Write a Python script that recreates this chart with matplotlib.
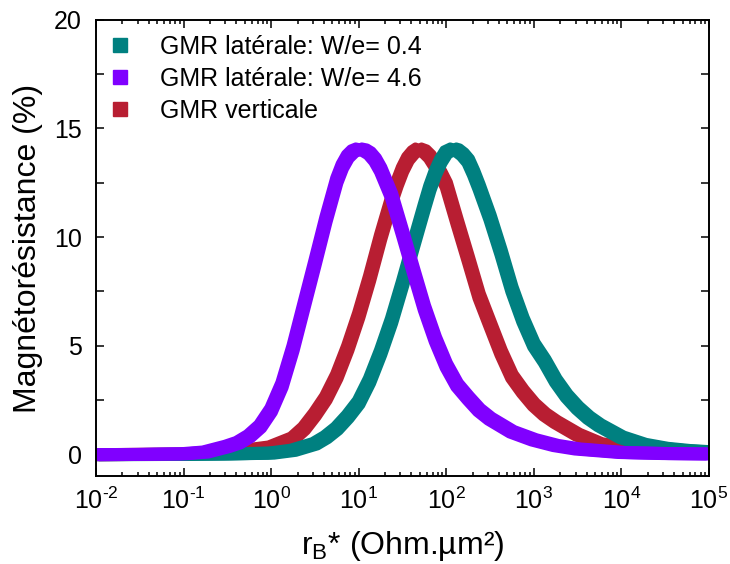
import matplotlib
matplotlib.use("Agg")
import matplotlib.pyplot as plt
import matplotlib.patheffects as pe
from matplotlib.lines import Line2D
from matplotlib.ticker import FixedLocator, FixedFormatter, LogLocator, NullFormatter

plt.rcParams['font.family'] = ['Liberation Sans', 'DejaVu Sans']
plt.rcParams['mathtext.fontset'] = 'custom'
plt.rcParams['mathtext.rm'] = 'Liberation Sans'
plt.rcParams['mathtext.it'] = 'Liberation Sans:italic'
plt.rcParams['mathtext.bf'] = 'Liberation Sans:bold'

# ---------------- data ----------------
labels = ["GMR latérale: W/e= 0.4", "GMR latérale: W/e= 4.6", "GMR verticale"]

x_lat04 = [0.01, 0.1, 0.316, 1.0, 1.78, 3.16, 4.22, 5.62, 7.5, 10, 13.3, 17.8, 23.7,
           31.6, 42.2, 56.2, 64.9, 75, 86.6, 100, 120, 133, 154, 178, 205, 237, 316, 422,
           562, 750, 1000, 1330, 1780, 2370, 3160, 4220, 5620, 10000, 17800, 31600,
           56200, 100000]
y_lat04 = [0.0, 0.01, 0.03, 0.07, 0.2, 0.5, 0.8, 1.2, 1.75, 2.4, 3.4, 4.7, 6.15,
           7.85, 9.65, 11.4, 12.25, 12.95, 13.5, 13.9, 14.05, 14.0, 13.8, 13.5, 12.95, 12.3,
           10.9, 9.3, 7.6, 6.2, 5.05, 4.3, 3.4, 2.7, 2.15, 1.7, 1.35, 0.8, 0.47, 0.29,
           0.19, 0.13]

x_lat46 = [0.01, 0.0316, 0.1, 0.178, 0.316, 0.422, 0.562, 0.75, 1.0, 1.33, 1.78, 2.37,
           3.16, 4.22, 5.62, 6.49, 7.5, 8.66, 10, 11.55, 13.3, 15.4, 17.8, 23.7, 31.6,
           42.2, 56.2, 75, 100, 133, 178, 237, 316, 562, 1000, 1780, 3160, 10000, 31600,
           100000]
y_lat46 = [0.0, 0.01, 0.04, 0.12, 0.38, 0.55, 0.85, 1.3, 2.05, 3.2, 4.9, 6.85,
           8.8, 10.8, 12.6, 13.25, 13.7, 13.95, 14.05, 14.0, 13.85, 13.55, 13.1, 11.9, 10.2,
           8.45, 6.75, 5.3, 4.1, 3.2, 2.6, 2.05, 1.65, 1.05, 0.68, 0.42, 0.26, 0.1, 0.05,
           0.03]

x_vert = [0.01, 0.1, 0.316, 0.562, 1.0, 1.78, 2.37, 3.16, 4.22, 5.62, 7.5, 10, 13.3,
          17.8, 23.7, 27.4, 31.6, 36.5, 42.2, 48, 56.2, 64.9, 75, 86.6, 100, 133, 178,
          237, 316, 422, 562, 750, 1000, 1330, 1780, 3160, 5620, 10000, 31600, 100000]
y_vert = [0.0, 0.02, 0.12, 0.22, 0.35, 0.75, 1.2, 1.85, 2.6, 3.6, 4.9, 6.4, 8.1,
          10.0, 11.7, 12.45, 13.1, 13.6, 13.9, 14.05, 13.95, 13.7, 13.3, 12.9, 12.4, 10.7,
          9.0, 7.3, 6.0, 4.7, 3.6, 2.9, 2.3, 1.85, 1.5, 0.92, 0.5, 0.33, 0.15, 0.07]

xtick_vals = [1e-2, 1e-1, 1e0, 1e1, 1e2, 1e3, 1e4, 1e5]
xtick_labels = ['10$^{\u20102}$', '10$^{\u20101}$', '10$^{0}$', '10$^{1}$', '10$^{2}$',
                '10$^{3}$', '10$^{4}$', '10$^{5}$']
ytick_vals = [0, 2.5, 5, 7.5, 10, 12.5, 15, 17.5, 20]
ytick_labels = ['0', '', '5', '', '10', '', '15', '', '20']

c_teal = '#008080'
c_purple = '#8000FF'
c_red = '#B81E32'

# ---------------- figure ----------------
fig = plt.figure(figsize=(7.30, 5.64), dpi=100)
ax = fig.add_axes([96/730, 1 - 476.4/564, (709 - 96)/730, (476.4 - 19.5)/564])

# square-ish "brush" to mimic the dense square markers of the original
pen_w = 5.0
d = 2.2
square_pen = [pe.Stroke(offset=(dx, dy), linewidth=pen_w)
              for dx, dy in ((0, 0), (-d, -d), (-d, d), (d, -d), (d, d))]

for xs, ys, c, z in ((x_vert, y_vert, c_red, 2),
                     (x_lat04, y_lat04, c_teal, 3),
                     (x_lat46, y_lat46, c_purple, 4)):
    ax.plot(xs, ys, color=c, lw=pen_w, solid_joinstyle='round', solid_capstyle='round',
            zorder=z, path_effects=square_pen)

ax.set_xscale('log')
ax.set_xlim(1e-2, 1e5)
ax.set_ylim(-1, 20)

ax.xaxis.set_major_locator(FixedLocator(xtick_vals))
ax.xaxis.set_major_formatter(FixedFormatter(xtick_labels))
ax.xaxis.set_minor_locator(LogLocator(base=10, subs=[2, 3, 4, 5, 6, 7, 8, 9], numticks=20))
ax.xaxis.set_minor_formatter(NullFormatter())
ax.yaxis.set_major_locator(FixedLocator(ytick_vals))
ax.yaxis.set_major_formatter(FixedFormatter(ytick_labels))

for s in ax.spines.values():
    s.set_linewidth(1.4)
    s.set_zorder(5)

ax.tick_params(which='both', direction='in', top=True, right=True, width=1.1)
ax.tick_params(which='major', length=6)
ax.tick_params(which='minor', length=3)
ax.tick_params(axis='x', which='major', labelsize=18, pad=8)
ax.tick_params(axis='y', which='major', labelsize=18, pad=10)

ax.set_xlabel('r$_\\mathregular{B}$* (Ohm.µm²)', fontsize=23, labelpad=11)
ax.set_ylabel('Magnétorésistance (%)', fontsize=23, labelpad=8)

handles = [Line2D([], [], ls='none', marker='s', ms=9.5, color=c) for c in (c_teal, c_purple, c_red)]
ax.legend(handles, labels, loc='upper left', bbox_to_anchor=(0.019, 0.967), frameon=False,
          fontsize=18, handlelength=1.0, handletextpad=1.1, borderaxespad=0, borderpad=0,
          labelspacing=0.33)

fig.savefig('out.png', dpi=100)
